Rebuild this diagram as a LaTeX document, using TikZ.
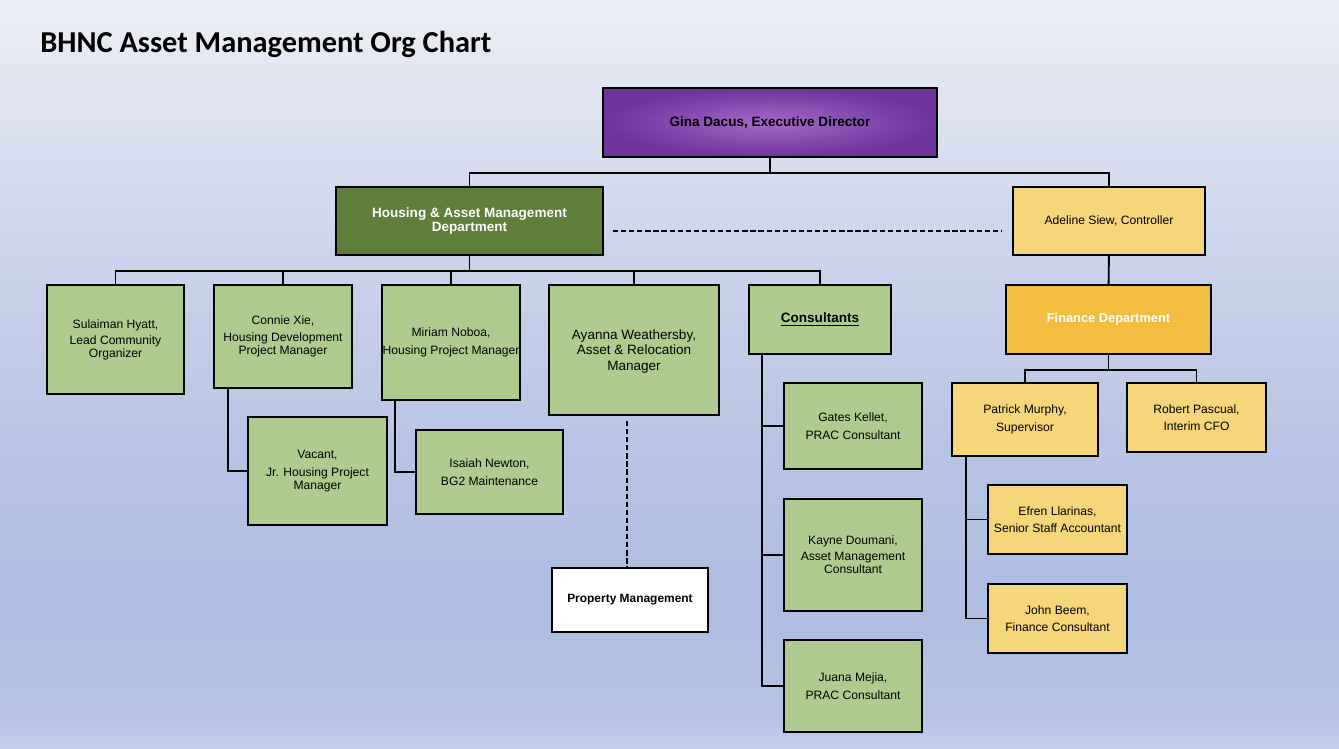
\documentclass[tikz,border=0pt]{standalone}
\usepackage{fontspec}
\setmainfont{Liberation Sans}
\newfontfamily\titlefont{Carlito}
\usetikzlibrary{calc}

\definecolor{staffgreen}{HTML}{AECC8F}
\definecolor{deptgreen}{HTML}{5E7F3A}
\definecolor{finyellow}{HTML}{F5D67A}
\definecolor{fingold}{HTML}{F3BD41}
\definecolor{edin}{HTML}{A468C8}
\definecolor{edout}{HTML}{6E349C}
\definecolor{bgA}{HTML}{C4CEE8}
\definecolor{bgB}{HTML}{B6C3E4}
\definecolor{bgC}{HTML}{AEBDE0}
\definecolor{bgD}{HTML}{B8C4E3}
\definecolor{bgE}{HTML}{CBD4EB}
\definecolor{bgF}{HTML}{EDEEF5}
\pgfdeclareverticalshading{slidebg}{100bp}{color(0bp)=(bgA); color(25bp)=(bgA); color(27bp)=(bgB); color(35bp)=(bgC); color(45bp)=(bgD); color(58bp)=(bgE); color(75bp)=(bgF); color(100bp)=(bgF)}

\begin{document}
\begin{tikzpicture}[
    x=0.02cm, y=-0.02cm,
    font=\fontsize{6.9}{7.4}\selectfont,
    person/.style={draw=black, line width=1.1pt, fill=staffgreen, align=center, inner xsep=0pt, inner ysep=2pt},
    finperson/.style={person, fill=finyellow},
    headbox/.style={person, font=\fontsize{7.7}{8.2}\selectfont\bfseries},
    link/.style={line width=1.1pt, draw=black},
    dotlink/.style={link, dash pattern=on 3pt off 1.6pt}
]
% slide background
\shade[shading=slidebg] (0,0) rectangle (1339,748);
\useasboundingbox (0,0) rectangle (1339,748);

\node[anchor=base west, inner sep=0pt, font=\titlefont\fontsize{17.3}{20}\selectfont\bfseries] (title) at (40,52) {BHNC Asset Management Org Chart};

% top level
\node[headbox, shading=radial, inner color=edin, outer color=edout, minimum width=6.68cm, minimum height=1.38cm] (gina) at (770,122.5) {Gina Dacus, Executive Director};
\node[headbox, fill=deptgreen, text=white, minimum width=5.34cm, minimum height=1.36cm] (hamd) at (469.5,221) {Housing \& Asset Management\\Department};
\node[finperson, minimum width=3.84cm, minimum height=1.36cm] (adeline) at (1109,221) {Adeline Siew, Controller};
\node[finperson, fill=fingold, text=white, font=\fontsize{7.3}{8}\selectfont\bfseries, minimum width=4.1cm, minimum height=1.38cm] (finance) at (1108.5,319.5) {Finance Department};

% housing & asset management
\node[person, minimum width=2.74cm, minimum height=2.18cm] (sulaiman) at (115.5,339.5) {Sulaiman Hyatt,\\[1.6pt]Lead Community\\Organizer};
\node[person, minimum width=2.76cm, minimum height=2.06cm] (connie) at (283,336.5) {Connie Xie,\\[2.6pt]Housing Development\\Project Manager};
\node[person, minimum width=2.76cm, minimum height=2.3cm] (miriam) at (451,342.5) {Miriam Noboa,\\[2.6pt]Housing Project Manager};
\node[person, font=\fontsize{7.7}{9}\selectfont, minimum width=3.4cm, minimum height=2.6cm, text depth=-1pt] (ayanna) at (634,350) {Ayanna Weathersby,\\Asset \& Relocation\\Manager};
\node[person, font=\fontsize{7.7}{8.2}\selectfont\bfseries, minimum width=2.84cm, minimum height=1.38cm] (consult) at (820,319.5) {\underline{Consultants}};

\node[person, minimum width=2.78cm, minimum height=2.16cm] (vacant) at (317.5,471) {Vacant,\\[2.6pt]Jr. Housing Project\\Manager};
\node[person, minimum width=2.94cm, minimum height=1.68cm] (isaiah) at (489.5,472) {Isaiah Newton,\\[2.6pt]BG2 Maintenance};
\node[person, fill=white, font=\fontsize{6.8}{7.4}\selectfont\bfseries, minimum width=3.12cm, minimum height=1.28cm] (propmgmt) at (630,600) {Property Management};

\node[person, minimum width=2.76cm, minimum height=1.72cm] (gates) at (853,426) {Gates Kellet,\\[2.6pt]PRAC Consultant};
\node[person, minimum width=2.76cm, minimum height=2.24cm] (kayne) at (853,555) {Kayne Doumani,\\[1.6pt]Asset Management\\Consultant};
\node[person, minimum width=2.76cm, minimum height=1.84cm] (juana) at (853,686) {Juana Mejia,\\[2.6pt]PRAC Consultant};

% finance
\node[finperson, minimum width=2.92cm, minimum height=1.46cm] (patrick) at (1025,419.5) {Patrick Murphy,\\[2.6pt]Supervisor};
\node[finperson, minimum width=2.78cm, minimum height=1.38cm] (robert) at (1196.5,417.5) {Robert Pascual,\\[2.6pt]Interim CFO};
\node[finperson, minimum width=2.78cm, minimum height=1.38cm] (efren) at (1057.5,519.5) {Efren Llarinas,\\[2.6pt]Senior Staff Accountant};
\node[finperson, minimum width=2.78cm, minimum height=1.38cm] (john) at (1057.5,618.5) {John Beem,\\[2.6pt]Finance Consultant};

% connectors
\draw[link] (gina.south) -- ++(0,15) -| (hamd.north);
\draw[link] (gina.south) -- ++(0,15) -| (adeline.north);
\draw[dotlink] ($(hamd.east)+(9,10)$) -- ($(adeline.west)+(-11,10)$);
\draw[link] (adeline) -- (finance);
\foreach \n in {sulaiman,connie,miriam,ayanna,consult}
  \draw[link] (hamd.south) -- ++(0,15) -| (\n.north);
\draw[link] ($(connie.south west)+(15,0)$) |- (vacant.west);
\draw[link] ($(miriam.south west)+(14,0)$) |- (isaiah.west);
\draw[dotlink] ($(ayanna.south)+(-7,5)$) -- ($(propmgmt.north)+(-3,0)$);
\foreach \n in {gates,kayne,juana}
  \draw[link] ($(consult.south west)+(14,0)$) |- (\n.west);
\foreach \n in {patrick,robert}
  \draw[link] (finance.south) -- ++(0,15) -| (\n.north);
\foreach \n in {efren,john}
  \draw[link] ($(patrick.south west)+(15,0)$) |- (\n.west);
\end{tikzpicture}
\end{document}
